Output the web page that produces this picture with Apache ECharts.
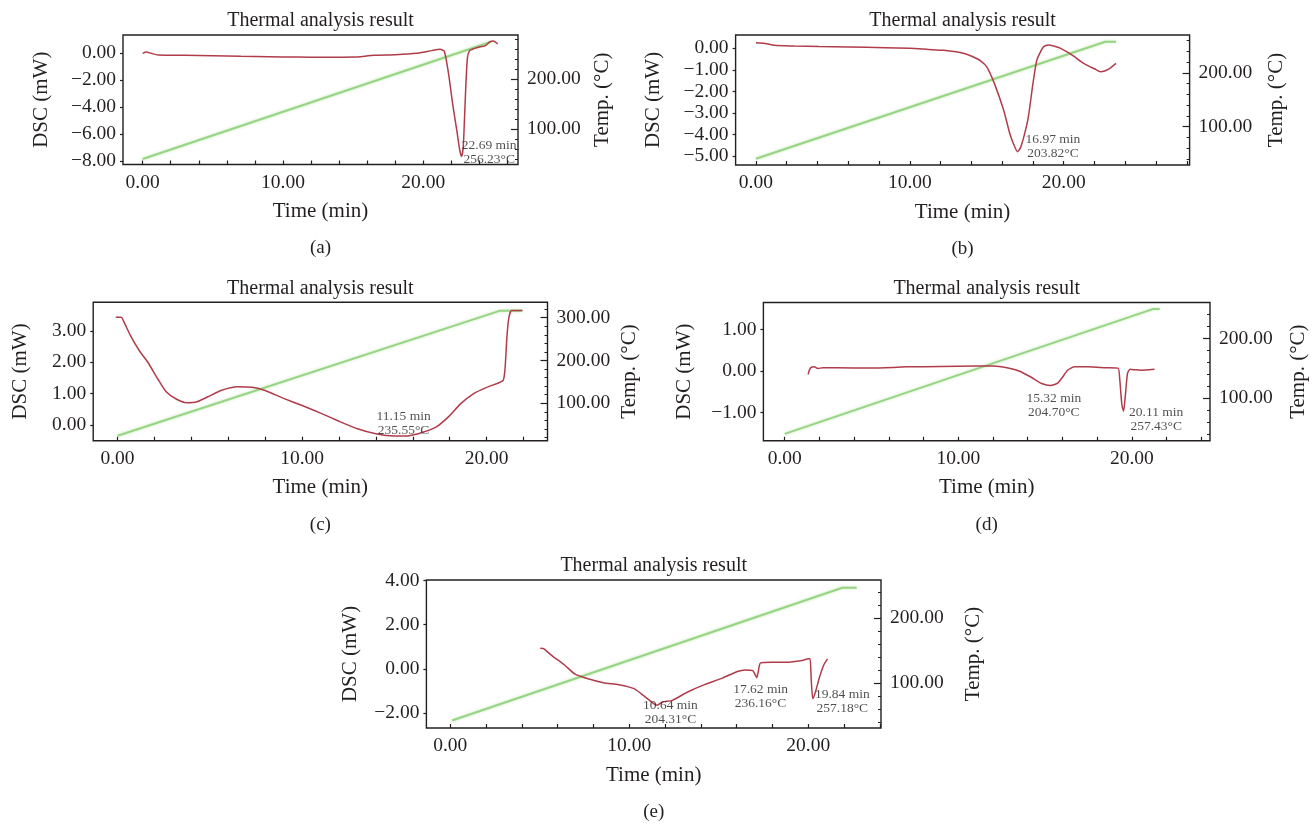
<!DOCTYPE html>
<html>
<head>
<meta charset="utf-8">
<script src="https://cdn.jsdelivr.net/npm/echarts@6/dist/echarts.min.js"></script>
<style>
  html, body { margin: 0; background: #fff; }
  #chart { width: 1312px; height: 824px; }
</style>
</head>
<body>
<div id="chart"></div>
<script>
const FONT = '"Liberation Serif", "DejaVu Serif", serif';
const INK = "#231f20";
const RED = "#b03c4a";
const GREEN = "#8fd07a";

// ---- tick labels ----
const timeTicks = [0, 10, 20];
const timeMinorA = [0, 2, 4, 6, 8, 10, 12, 14, 16, 18, 20, 22, 24, 26];
const timeMinorB = [0, 2, 4, 6, 8, 10, 12, 14, 16, 18, 20, 22, 24, 26, 28];
const timeMinorC = [0, 2, 4, 6, 8, 10, 12, 14, 16, 18, 20, 22];
const timeMinorD = [0, 2, 4, 6, 8, 10, 12, 14, 16, 18, 20, 22, 24];
const timeMinorE = [0, 2, 4, 6, 8, 10, 12, 14, 16, 18, 20, 22, 24];

const dscTicksA = [-8, -6, -4, -2, 0];
const dscTicksB = [-5, -4, -3, -2, -1, 0];
const dscTicksC = [0, 1, 2, 3];
const dscTicksD = [-1, 0, 1];
const dscTicksE = [-2, 0, 2, 4];

const tempTicksA = [100, 200];
const tempTicksB = [100, 200];
const tempTicksC = [100, 200, 300];
const tempTicksD = [100, 200];
const tempTicksE = [100, 200];

const tempMinorA = [40, 60, 80, 100, 120, 140, 160, 180, 200, 220, 240, 260, 280];
const tempMinorB = [40, 60, 80, 100, 120, 140, 160, 180, 200, 220, 240, 260];
const tempMinorC = [20, 40, 60, 80, 100, 120, 140, 160, 180, 200, 220, 240, 260, 280, 300, 320];
const tempMinorD = [40, 60, 80, 100, 120, 140, 160, 180, 200, 220, 240, 260];
const tempMinorE = [40, 60, 80, 100, 120, 140, 160, 180, 200, 220, 240];

// ---- (a) ----
const timeA = [0, 0.25, 0.6, 1.1, 3, 5, 7, 9, 11, 13, 15, 16.5, 18, 19.5, 20.6, 21.2, 21.5, 21.8, 22.1, 22.4, 22.6, 22.74, 22.85, 22.95, 23.05, 23.15, 23.3, 23.6, 24.05, 24.4, 24.75, 25.0, 25.3];
const dscA = [0.0, 0.1, 0.0, -0.12, -0.15, -0.18, -0.22, -0.25, -0.28, -0.3, -0.28, -0.15, -0.1, 0.0, 0.2, 0.3, 0.15, -1.5, -3.8, -5.8, -7.2, -7.65, -6.9, -4.5, -2.0, -0.3, 0.2, 0.35, 0.49, 0.55, 0.86, 0.92, 0.7];
const tempTimeA = [0, 24.8];
const tempA = [40, 275];
const annTimeA = [24.7];
const annDscA = [-6.33];
const annTextA = ["22.69 min\n256.23°C"];

// ---- (b) ----
const timeB = [0, 0.6, 1.2, 2.5, 4.1, 6, 8.4, 10, 11.2, 12.2, 13, 13.6, 14.1, 14.6, 15, 15.5, 16.1, 16.5, 16.8, 17.0, 17.2, 17.45, 17.7, 18.0, 18.25, 18.5, 18.7, 19.0, 19.4, 19.8, 20.3, 20.7, 21.1, 21.5, 22.0, 22.4, 22.7, 23.0, 23.4];
const dscB = [0.26, 0.23, 0.14, 0.11, 0.08, 0.06, 0.03, 0.0, -0.05, -0.09, -0.16, -0.25, -0.39, -0.58, -0.86, -1.64, -2.88, -3.97, -4.55, -4.8, -4.6, -4.0, -3.2, -1.64, -0.55, -0.15, 0.08, 0.16, 0.1, 0.0, -0.2, -0.39, -0.6, -0.78, -0.95, -1.09, -1.04, -0.93, -0.7];
const tempTimeB = [0, 22.7, 23.4];
const tempB = [40.6, 257.4, 257.4];
const annTimeB = [19.3];
const annDscB = [-3.9];
const annTextB = ["16.97 min\n203.82°C"];

// ---- (c) ----
const timeC = [-0.1, 0.2, 0.35, 0.7, 1.2, 1.64, 2.2, 2.65, 3.2, 3.75, 4.3, 4.9, 5.6, 6.5, 7.3, 8.0, 9.0, 10.0, 11.0, 12.0, 13.0, 14.0, 15.0, 15.8, 16.5, 17.3, 18.0, 18.6, 19.3, 20.0, 20.6, 20.9, 21.0, 21.1, 21.2, 21.35, 21.6, 21.95];
const dscC = [3.43, 3.43, 3.28, 2.85, 2.35, 2.0, 1.45, 1.05, 0.82, 0.71, 0.74, 0.9, 1.1, 1.22, 1.2, 1.1, 0.85, 0.62, 0.38, 0.12, -0.12, -0.28, -0.35, -0.34, -0.24, -0.05, 0.3, 0.68, 1.0, 1.2, 1.33, 1.42, 1.8, 2.8, 3.4, 3.65, 3.65, 3.65];
const tempTimeC = [0, 20.7, 21.9];
const tempC = [24.3, 316, 316];
const annTimeC = [15.5];
const annDscC = [0.48];
const annTextC = ["11.15 min\n235.55°C"];

// ---- (d) ----
const timeD = [1.35, 1.4, 1.5, 1.7, 1.9, 2.2, 3, 5, 7, 9, 11, 12, 12.8, 13.5, 14.2, 14.8, 15.3, 15.7, 16.0, 16.3, 16.7, 17.5, 18.5, 19.2, 19.3, 19.42, 19.52, 19.62, 19.75, 19.9, 20.2, 20.6, 21.0, 21.3];
const dscD = [-0.08, 0.0, 0.08, 0.1, 0.06, 0.08, 0.08, 0.07, 0.1, 0.11, 0.12, 0.12, 0.08, 0.0, -0.15, -0.3, -0.35, -0.3, -0.15, 0.02, 0.1, 0.1, 0.08, 0.07, -0.2, -0.8, -0.97, -0.6, -0.05, 0.04, 0.03, 0.02, 0.03, 0.04];
const tempTimeD = [0, 21.2, 21.6];
const tempD = [40.5, 249, 249];
const annTimeD = [15.5, 21.4];
const annDscD = [-0.5, -0.82];
const annTextD = ["15.32 min\n204.70°C", "20.11 min\n257.43°C"];

// ---- (e) ----
const timeE = [5.03, 5.24, 5.5, 5.78, 6.1, 6.42, 6.95, 7.7, 8.56, 9.41, 10.27, 10.9, 11.55, 11.87, 12.4, 13.26, 14.1, 15.2, 16.04, 16.47, 16.9, 17.05, 17.12, 17.2, 17.33, 17.97, 18.8, 19.66, 20.0, 20.1, 20.17, 20.25, 20.4, 20.6, 20.85, 21.07];
const dscE = [0.93, 0.9, 0.72, 0.53, 0.35, 0.15, -0.23, -0.45, -0.63, -0.72, -0.9, -1.28, -1.65, -1.5, -1.43, -1.05, -0.75, -0.42, -0.12, -0.05, -0.08, -0.3, -0.4, -0.15, 0.27, 0.3, 0.3, 0.38, 0.45, 0.45, -0.6, -1.35, -1.05, -0.45, 0.15, 0.45];
const tempTimeE = [0.1, 21.9, 22.7];
const tempE = [42.5, 247, 247];
const annTimeE = [12.3, 17.33, 21.9];
const annDscE = [-1.36, -0.61, -0.83];
const annTextE = ["10.64 min\n204.31°C", "17.62 min\n236.16°C", "19.84 min\n257.18°C"];

const zip = (xs, ys) => xs.map((x, i) => [x, ys[i]]);
const fmt = (v) => (v < 0 ? "\u2212" : "") + Math.abs(v).toFixed(2);

const panels = [
  {
    tag: "(a)", box: { left: 123, top: 35, width: 395, height: 129.5 },
    x: [-1.4, 26.75], yL: [-8.25, 1.36], yR: [29, 289],
    timeMinor: timeMinorA, dscTicks: dscTicksA, tempTicks: tempTicksA, tempMinor: tempMinorA,
    dsc: zip(timeA, dscA), temp: zip(tempTimeA, tempA),
    ann: annTimeA.map((t, i) => ({ value: [t, annDscA[i]], text: annTextA[i] })),
    leftGap: 71.5, rightGap: 74,
  },
  {
    tag: "(b)", box: { left: 735.6, top: 35, width: 454, height: 130 },
    x: [-1.32, 28.18], yL: [-5.42, 0.62], yR: [29, 270],
    timeMinor: timeMinorB, dscTicks: dscTicksB, tempTicks: tempTicksB, tempMinor: tempMinorB,
    dsc: zip(timeB, dscB), temp: zip(tempTimeB, tempB),
    ann: annTimeB.map((t, i) => ({ value: [t, annDscB[i]], text: annTextB[i] })),
    leftGap: 72, rightGap: 76,
  },
  {
    tag: "(c)", box: { left: 93.2, top: 302.3, width: 454.3, height: 138.4 },
    x: [-1.32, 23.3], yL: [-0.5, 3.91], yR: [12.6, 336],
    timeMinor: timeMinorC, dscTicks: dscTicksC, tempTicks: tempTicksC, tempMinor: tempMinorC,
    dsc: zip(timeC, dscC), temp: zip(tempTimeC, tempC),
    ann: annTimeC.map((t, i) => ({ value: [t, annDscC[i]], text: annTextC[i] })),
    leftGap: 62, rightGap: 71,
  },
  {
    tag: "(d)", box: { left: 763.4, top: 302.5, width: 446.6, height: 138.3 },
    x: [-1.23, 24.5], yL: [-1.68, 1.65], yR: [29, 260],
    timeMinor: timeMinorD, dscTicks: dscTicksD, tempTicks: tempTicksD, tempMinor: tempMinorD,
    dsc: zip(timeD, dscD), temp: zip(tempTimeD, tempD),
    ann: annTimeD.map((t, i) => ({ value: [t, annDscD[i]], text: annTextD[i] })),
    leftGap: 68, rightGap: 78,
  },
  {
    tag: "(e)", box: { left: 426.4, top: 580, width: 454.6, height: 148 },
    x: [-1.33, 24.06], yL: [-2.68, 4.02], yR: [31, 259],
    timeMinor: timeMinorE, dscTicks: dscTicksE, tempTicks: tempTicksE, tempMinor: tempMinorE,
    dsc: zip(timeE, dscE), temp: zip(tempTimeE, tempE),
    ann: annTimeE.map((t, i) => ({ value: [t, annDscE[i]], text: annTextE[i] })),
    leftGap: 65, rightGap: 82,
  },
];

const text = (size) => ({ fontFamily: FONT, fontSize: size, color: INK });
const noLine = { show: false, onZero: false };

const grid = [];
const xAxis = [];
const yAxis = [];
const series = [];
const graphic = [];

panels.forEach((p, i) => {
  grid.push({
    ...p.box, show: true, borderColor: INK, borderWidth: 1.4,
    backgroundColor: "transparent", containLabel: false, outerBoundsMode: "none",
  });

  xAxis.push({
    gridIndex: i, type: "value", position: "bottom", min: p.x[0], max: p.x[1],
    axisLine: noLine,
    axisTick: { show: true, inside: true, length: 4, customValues: p.timeMinor, lineStyle: { color: INK, width: 1.2 } },
    axisLabel: { customValues: timeTicks, formatter: fmt, margin: 8, ...text(19.5) },
    splitLine: { show: false },
    name: "Time (min)", nameLocation: "middle", nameGap: 36.5, nameMoveOverlap: false,
    nameTextStyle: text(21),
  });

  // left: DSC
  yAxis.push({
    gridIndex: i, type: "value", position: "left", min: p.yL[0], max: p.yL[1],
    axisLine: noLine,
    axisTick: { show: true, inside: false, length: 3, customValues: p.dscTicks, lineStyle: { color: INK, width: 1.2 } },
    axisLabel: { customValues: p.dscTicks, formatter: fmt, margin: 7, ...text(19.5) },
    splitLine: { show: false },
    name: "DSC (mW)", nameLocation: "middle", nameRotate: 90, nameGap: p.leftGap, nameMoveOverlap: false,
    nameTextStyle: text(21),
  });
  // right: temperature labels + major ticks
  yAxis.push({
    gridIndex: i, type: "value", position: "right", min: p.yR[0], max: p.yR[1],
    axisLine: noLine,
    axisTick: { show: true, inside: true, length: 7, customValues: p.tempTicks, lineStyle: { color: INK, width: 1.2 } },
    axisLabel: { customValues: p.tempTicks, formatter: fmt, margin: 9, ...text(19.5) },
    splitLine: { show: false },
    name: "Temp. (°C)", nameLocation: "middle", nameRotate: 90, nameGap: p.rightGap, nameMoveOverlap: false,
    nameTextStyle: text(21),
  });
  // right: temperature minor ticks
  yAxis.push({
    gridIndex: i, type: "value", position: "right", min: p.yR[0], max: p.yR[1],
    axisLine: noLine,
    axisTick: { show: true, inside: true, length: 3, customValues: p.tempMinor, lineStyle: { color: INK, width: 1 } },
    axisLabel: { show: false },
    splitLine: { show: false },
  });

  series.push({
    type: "line", xAxisIndex: i, yAxisIndex: 3 * i + 1, data: p.temp,
    showSymbol: false, z: 2, silent: true,
    lineStyle: { color: GREEN, width: 2, opacity: 0.9, shadowColor: "rgba(140,210,120,0.6)", shadowBlur: 3 },
  });
  series.push({
    type: "line", xAxisIndex: i, yAxisIndex: 3 * i, data: p.dsc,
    showSymbol: false, smooth: 0.2, z: 3, silent: true,
    lineStyle: { color: RED, width: 1.5 },
  });
  series.push({
    type: "scatter", xAxisIndex: i, yAxisIndex: 3 * i, z: 4, silent: true,
    symbolSize: 0, itemStyle: { color: "transparent" },
    data: p.ann.map((a) => ({ value: a.value, label: { formatter: a.text } })),
    label: {
      show: true, position: [0, 0], align: "center", verticalAlign: "top",
      lineHeight: 14, ...text(13.5),
    },
  });

  const cx = p.box.left + p.box.width / 2;
  graphic.push({
    type: "text", x: cx, y: p.box.top - 14, silent: true,
    style: { text: "Thermal analysis result", align: "center", verticalAlign: "middle", font: `20px ${FONT}`, fill: INK },
  });
  graphic.push({
    type: "text", x: cx, y: p.box.top + p.box.height + 84, silent: true,
    style: { text: p.tag, align: "center", verticalAlign: "middle", font: `19px ${FONT}`, fill: INK },
  });
});

const chart = echarts.init(document.getElementById("chart"), null, { renderer: "canvas" });
chart.setOption({
  animation: false,
  backgroundColor: "#fff",
  grid,
  xAxis,
  yAxis,
  series,
  graphic,
});
</script>
</body>
</html>
